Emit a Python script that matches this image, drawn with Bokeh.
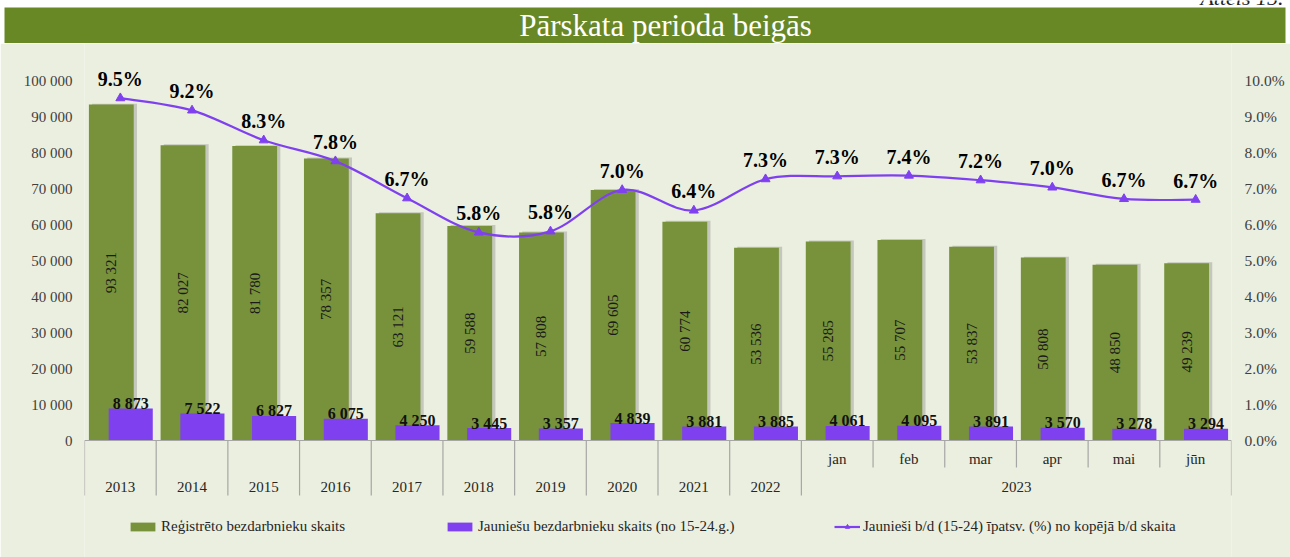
from bokeh.plotting import figure
from bokeh.models import (Range1d, LinearAxis, FixedTicker, PrintfTickFormatter,
                          ColumnDataSource, Legend, LegendItem)
from bokeh.embed import file_html
from bokeh.resources import INLINE
from bokeh.core.properties import value
import math

# ---------------- data ----------------
years = ["2013", "2014", "2015", "2016", "2017", "2018", "2019", "2020", "2021", "2022"]
months = ["jan", "feb", "mar", "apr", "mai", "jūn"]
month_year = "2023"
registered = [93321, 82027, 81780, 78357, 63121, 59588, 57808, 69605, 60774, 53536,
              55285, 55707, 53837, 50808, 48850, 49239]
youth = [8873, 7522, 6827, 6075, 4250, 3445, 3357, 4839, 3881, 3885,
         4061, 4095, 3891, 3570, 3278, 3294]
youth_share = [9.51, 9.17, 8.34, 7.76, 6.73, 5.78, 5.81, 6.96, 6.39, 7.26,
               7.34, 7.36, 7.23, 7.03, 6.71, 6.69]
left_ticks = [0, 10000, 20000, 30000, 40000, 50000, 60000, 70000, 80000, 90000, 100000]
right_ticks = [0, 1, 2, 3, 4, 5, 6, 7, 8, 9, 10]
title_text = "Pārskata perioda beigās"
figure_no = "Attēls 15."
legend_labels = ["Reģistrēto bezdarbnieku skaits",
                 "Jauniešu bezdarbnieku skaits (no 15-24.g.)",
                 "Jaunieši b/d (15-24) īpatsv. (%) no kopējā b/d skaita"]

# ---------------- style ----------------
BG = "#EBEFDF"
GREEN = "#77923B"
PURPLE = "#7F40F0"
BAND = "#688826"
AXIS_GRAY = "#A6A6A6"
FONT = value("Liberation Serif")
W = 1290
HEAD_H = 43
MAIN_H = 557 - HEAD_H

n = len(registered)
PX_PER_UNIT = 0.0036          # 360 px per 100 000
ZERO_Y = 440 - HEAD_H         # zero line, px below top of main figure
Y_TOP = ZERO_Y / PX_PER_UNIT
Y_BOT = -(MAIN_H - ZERO_Y) / PX_PER_UNIT

def fmt_thousands(v):
    return f"{v:,}".replace(",", " ")

# ---------------- header (title band) ----------------
head = figure(width=W, height=HEAD_H, x_range=Range1d(0, W), y_range=Range1d(HEAD_H, 0),
              x_axis_location=None, y_axis_location=None, output_backend="svg",
              toolbar_location=None, min_border=0, background_fill_color="white",
              border_fill_color="white", outline_line_color=None)
head.grid.visible = False
head.quad(left=[4], right=[1285], top=[7], bottom=[HEAD_H], fill_color=BAND, line_color=None)
head.text(x=[665], y=[25], text=[title_text], text_font=FONT, text_font_size="31px",
          text_color="white", text_align="center", text_baseline="middle")
head.text(x=[1283], y=[-3], text=[figure_no], text_font=FONT, text_font_size="22px",
          text_font_style="italic", text_color="#222222", text_align="right",
          text_baseline="middle")

# ---------------- main chart ----------------
xc = [i + 0.5 for i in range(n)]
src = ColumnDataSource(dict(
    xg=[x - 0.126 for x in xc],
    xp=[x + 0.145 for x in xc],
    xs=[x - 0.126 + 0.045 for x in xc],
    xc=xc,
    reg=registered,
    reg_half=[v / 2 for v in registered],
    reg_sh=[v + 250 for v in registered],
    youth=youth,
    share=youth_share,
    reg_lbl=[fmt_thousands(v) for v in registered],
    youth_lbl=[fmt_thousands(v) for v in youth],
    share_lbl=["%.1f%%" % v for v in youth_share],
))

p = figure(width=W, height=MAIN_H,
           x_range=Range1d(0, n), y_range=Range1d(Y_BOT, Y_TOP),
           x_axis_location=None, output_backend="svg", toolbar_location=None,
           min_border_left=84, min_border_right=59, min_border_top=0, min_border_bottom=0,
           background_fill_color=BG, border_fill_color=BG, outline_line_color=None)
p.grid.visible = False
p.extra_y_ranges = {"pct": Range1d(Y_BOT / 10000, Y_TOP / 10000)}

# left axis
ya = p.yaxis[0]
ya.ticker = FixedTicker(ticks=left_ticks)
ya.major_label_overrides = {t: fmt_thousands(t) for t in left_ticks}
ya.axis_line_color = None
ya.major_tick_line_color = None
ya.minor_tick_line_color = None
ya.major_tick_out = 0
ya.major_tick_in = 0
ya.major_label_standoff = 12
ya.major_label_text_font = "Liberation Serif"
ya.major_label_text_font_size = "15px"
ya.major_label_text_color = "#404040"

# right axis
ra = LinearAxis(y_range_name="pct", ticker=FixedTicker(ticks=right_ticks),
                formatter=PrintfTickFormatter(format="%.1f%%"))
ra.axis_line_color = None
ra.major_tick_line_color = None
ra.minor_tick_line_color = None
ra.major_tick_out = 0
ra.major_tick_in = 0
ra.major_label_standoff = 13
ra.major_label_text_font = "Liberation Serif"
ra.major_label_text_font_size = "15.5px"
ra.major_label_text_color = "#404040"
p.add_layout(ra, "right")

# bar shadows
p.vbar(x="xs", top="reg_sh", bottom=0, width=0.625, source=src,
       fill_color="#505050", fill_alpha=0.25, line_color=None)
# bars
r_green = p.vbar(x="xg", top="reg", bottom=0, width=0.625, source=src,
                 fill_color=GREEN, line_color=None)
r_purple = p.vbar(x="xp", top="youth", bottom=0, width=0.615, source=src,
                  fill_color=PURPLE, line_color=None)

# category axis line and separators
p.segment(x0=[0], y0=[0], x1=[n], y1=[0], line_color=AXIS_GRAY, line_width=1.2)
n_years = len(years)
full_len = -55 / PX_PER_UNIT
short_len = -27 / PX_PER_UNIT
sep_x = list(range(0, n + 1))
sep_y1 = [full_len if (k <= n_years or k == n) else short_len for k in sep_x]
p.segment(x0=sep_x, y0=[0] * len(sep_x), x1=sep_x, y1=sep_y1,
          line_color=AXIS_GRAY, line_width=1.2)

# category labels
lbl_low_y = -46 / PX_PER_UNIT
lbl_high_y = -18 / PX_PER_UNIT
p.text(x=[i + 0.5 for i in range(n_years)], y=[lbl_low_y] * n_years, text=years,
       text_font=FONT, text_font_size="15px", text_color="#262626",
       text_align="center", text_baseline="middle")
p.text(x=[n_years + i + 0.5 for i in range(len(months))], y=[lbl_high_y] * len(months),
       text=months, text_font=FONT, text_font_size="15px", text_color="#262626",
       text_align="center", text_baseline="middle")
p.text(x=[n_years + len(months) / 2], y=[lbl_low_y], text=[month_year],
       text_font=FONT, text_font_size="15px", text_color="#262626",
       text_align="center", text_baseline="middle")

# bar value labels
p.text(x="xg", y="reg_half", text="reg_lbl", source=src, angle=math.pi / 2,
       text_font=FONT, text_font_size="15px", text_color="#1A1A1A",
       text_align="center", text_baseline="middle")
p.text(x="xp", y="youth", text="youth_lbl", source=src, y_offset=-5,
       text_font=FONT, text_font_size="16px", text_font_style="bold", text_color="#111111",
       text_align="center", text_baseline="middle")

# smoothed share line (cubic Bezier through the data points)
pts = list(zip(xc, youth_share))
x0s, y0s, x1s, y1s, cx0s, cy0s, cx1s, cy1s = [], [], [], [], [], [], [], []
for i in range(n - 1):
    pm = pts[i - 1] if i > 0 else pts[i]
    pa, pb = pts[i], pts[i + 1]
    pn = pts[i + 2] if i + 2 < n else pts[i + 1]
    x0s.append(pa[0]); y0s.append(pa[1])
    x1s.append(pb[0]); y1s.append(pb[1])
    cx0s.append(pa[0] + (pb[0] - pm[0]) / 6); cy0s.append(pa[1] + (pb[1] - pm[1]) / 6)
    cx1s.append(pb[0] - (pn[0] - pa[0]) / 6); cy1s.append(pb[1] - (pn[1] - pa[1]) / 6)
r_bez = p.bezier(x0=x0s, y0=y0s, x1=x1s, y1=y1s, cx0=cx0s, cy0=cy0s, cx1=cx1s, cy1=cy1s,
                 line_color=PURPLE, line_width=2.2, y_range_name="pct")
r_tri = p.scatter(x="xc", y="share", source=src, marker="triangle", size=9,
                  fill_color=PURPLE, line_color=PURPLE, y_range_name="pct")
p.text(x="xc", y="share", text="share_lbl", source=src, y_range_name="pct", y_offset=-19,
       text_font=FONT, text_font_size="20px", text_font_style="bold", text_color="#000000",
       text_align="center", text_baseline="middle")

# legends
def add_legend(label, renderers, loc, gw, gh):
    lg = Legend(items=[LegendItem(label=label, renderers=renderers)], location=loc,
                orientation="horizontal", padding=0, margin=0, spacing=0,
                glyph_width=gw, glyph_height=gh, label_standoff=3, label_height=11,
                label_text_font="Liberation Serif", label_text_font_size="15px",
                label_text_color="#262626", background_fill_alpha=0,
                border_line_color=None)
    p.add_layout(lg, "center")

add_legend(legend_labels[0], [r_green], (43, 22), 31, 11)
add_legend(legend_labels[1], [r_purple], (360, 22), 31, 11)
add_legend(legend_labels[2], [r_bez, r_tri], (750, 22), 26, 11)

open("out.html", "w").write(file_html([head, p], INLINE))
